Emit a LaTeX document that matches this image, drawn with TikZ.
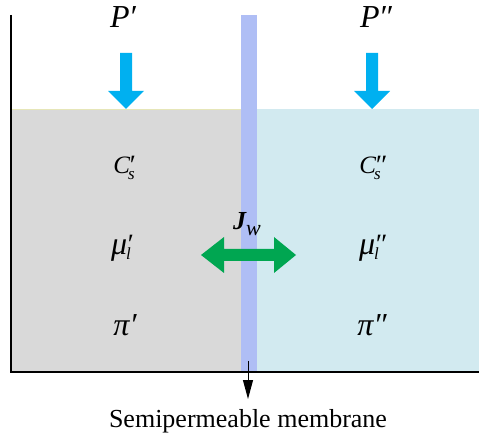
\documentclass[tikz,border=0pt]{standalone}
\usepackage{fontspec}
\setmainfont{Liberation Serif}
\usetikzlibrary{arrows.meta}
\definecolor{leftfill}{HTML}{D9D9D9}
\definecolor{rightfill}{HTML}{D2EAF0}
\definecolor{membr}{HTML}{AFBEF5}
\definecolor{pblue}{HTML}{00B0F0}
\definecolor{fgreen}{HTML}{00A651}
\definecolor{topline}{HTML}{E6E6B8}
\newcommand\bigsym{\fontsize{32}{32}\selectfont\itshape}
\newcommand\midsym{\fontsize{25}{25}\selectfont\itshape}
\newcommand\smallsym[1]{{\fontsize{17}{17}\selectfont\itshape #1}}
\newcommand\primesym[1]{{\fontsize{28}{28}\selectfont\itshape #1}}
% #1 base, #2 prime, #3 subscript, #4 prime raise, #5 sub drop, #6 kern before
\newcommand\supsubsym[6]{#1\kern#6\rlap{\raisebox{#4}{\primesym{#2}}}\raisebox{#5}{\smallsym{#3}}\kern6pt}
\tikzset{
  sym/.style={inner sep=0pt},
  pressarrow/.style={fill=pblue},
  wall/.style={line width=1.5pt, black},
}
\begin{document}
\begin{tikzpicture}[x=1pt,y=-1pt]
\useasboundingbox (0,0) rectangle (479,435);
% liquids
\fill[leftfill] (12,109) rectangle (241,371);
\fill[rightfill] (257,109) rectangle (479,371);
\draw[topline, line width=1pt] (12,109.5) -- (241,109.5);
% membrane
\fill[membr] (241,15) rectangle (257,371);
% vessel
\draw[wall] (11,15) -- (11,372) -- (479,372);
% pressure arrows
\fill[pressarrow] (120,53) -- (132,53) -- (132,91) -- (144,91) -- (126,109) -- (108,91) -- (120,91) -- cycle;
\fill[pressarrow] (366,53) -- (378,53) -- (378,91) -- (390,91) -- (372,109) -- (354,91) -- (366,91) -- cycle;
% labels
\node[sym] (pl) at (123,17) {\bigsym P\kern-1pt′};
\node[sym] (pr) at (376,17) {\bigsym P\kern-1pt″};
\node[sym] (cl) at (127,168) {\midsym\supsubsym{C}{′}{s}{-1pt}{-6pt}{-2pt}};
\node[sym] (cr) at (373,168) {\midsym\supsubsym{C}{″}{s}{-1pt}{-6pt}{-2pt}};
\node[sym] (ml) at (124,248) {\bigsym\supsubsym{μ}{′}{l}{1pt}{-5pt}{-1pt}};
\node[sym] (mr) at (372,248) {\bigsym\supsubsym{μ}{″}{l}{1pt}{-5pt}{-1pt}};
\node[sym] (pil) at (125,325) {\bigsym π′};
\node[sym] (pir) at (372,325) {\bigsym π″};
% flux
\fill[fgreen] (201,255) -- (224,237) -- (224,249) -- (274,249) -- (274,237) -- (296,255) -- (274,273) -- (274,261) -- (224,261) -- (224,273) -- cycle;
\node[sym] (jw) at (247,224) {\fontsize{26}{26}\selectfont\bfseries\itshape J\raisebox{-6pt}{\fontsize{22}{22}\selectfont\mdseries\itshape w}};
% membrane label
\coordinate (mb) at (248,361);
\node[anchor=base, inner sep=0pt, font=\fontsize{26}{26}\selectfont] (lab) at (248,427) {Semipermeable membrane};
\draw[line width=1pt, -{Triangle[length=19pt,width=10pt]}] (mb) -- (248,399);
\end{tikzpicture}
\end{document}
